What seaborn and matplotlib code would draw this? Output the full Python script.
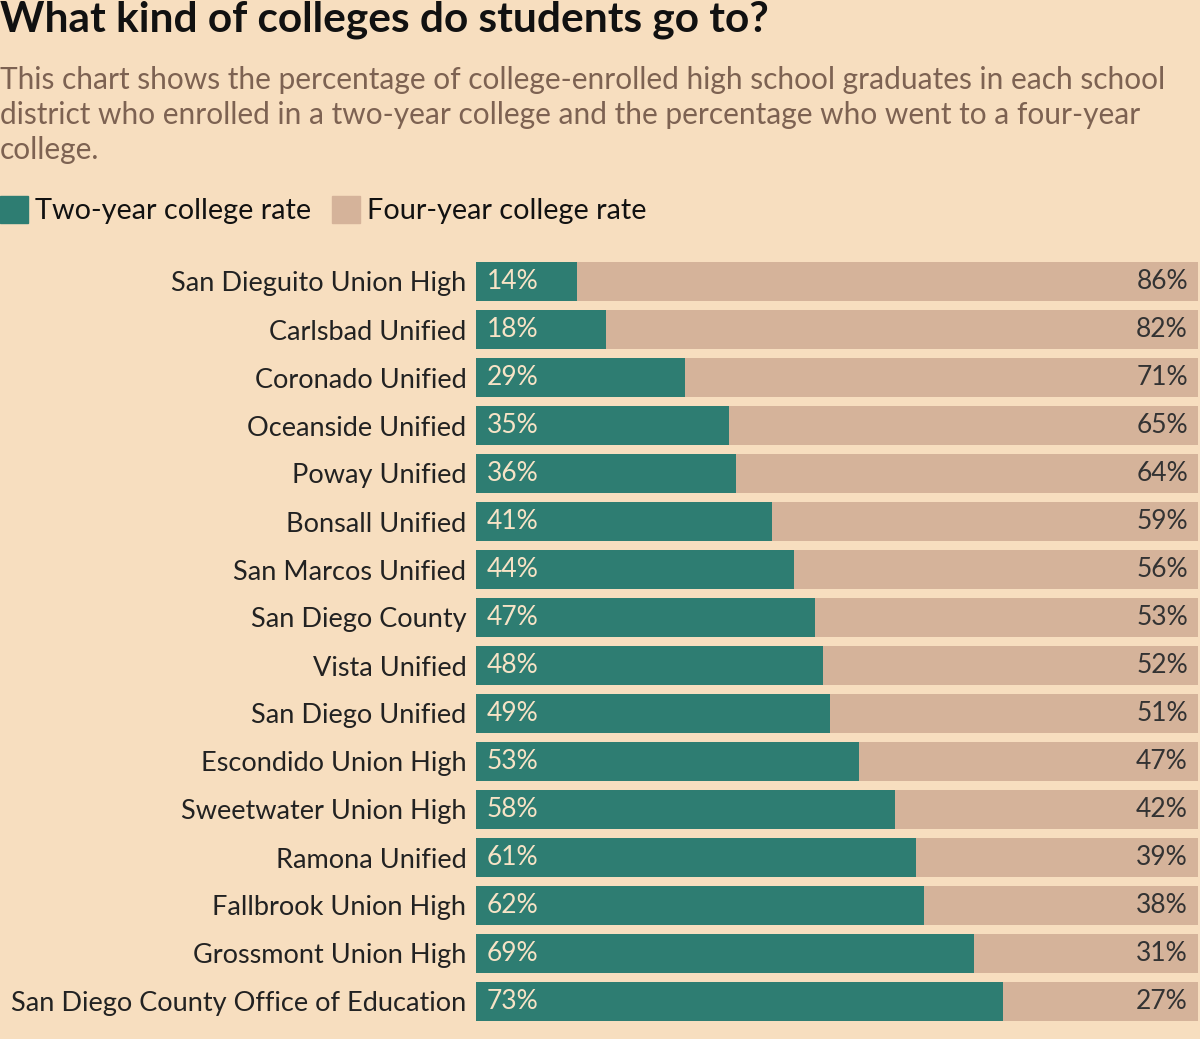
import pandas as pd
import seaborn as sns
import matplotlib.pyplot as plt

# Data
districts = ['San Dieguito Union High', 'Carlsbad Unified', 'Coronado Unified',
             'Oceanside Unified', 'Poway Unified', 'Bonsall Unified',
             'San Marcos Unified', 'San Diego County', 'Vista Unified',
             'San Diego Unified', 'Escondido Union High', 'Sweetwater Union High',
             'Ramona Unified', 'Fallbrook Union High', 'Grossmont Union High',
             'San Diego County Office of Education']
two_year = [14, 18, 29, 35, 36, 41, 44, 47, 48, 49, 53, 58, 61, 62, 69, 73]
four_year = [86, 82, 71, 65, 64, 59, 56, 53, 52, 51, 47, 42, 39, 38, 31, 27]

bg = '#F7DEBF'
teal = '#2E7D72'
tan = '#D5B39A'

df = pd.DataFrame({'District': districts, 'Two': two_year, 'Four': four_year})
df['Total'] = df['Two'] + df['Four']

sns.set_theme(style='white')
plt.rcParams['font.family'] = ['Lato', 'DejaVu Sans']

fig = plt.figure(figsize=(12, 10.39), dpi=100)
fig.patch.set_facecolor(bg)
ax = fig.add_axes([476 / 1200, 1 - 1025.5 / 1039, 722 / 1200, 768 / 1039])
ax.set_facecolor(bg)

# four-year part drawn as the full bar, two-year on top of it
sns.barplot(data=df, x='Total', y='District', color=tan, saturation=1,
            width=0.81, orient='h', linewidth=0, ax=ax)
sns.barplot(data=df, x='Two', y='District', color=teal, saturation=1,
            width=0.81, orient='h', linewidth=0, ax=ax)

ax.set_xlim(0, 100)
ax.set_ylim(15.5, -0.5)
ax.set_xlabel('')
ax.set_ylabel('')
ax.set_xticks([])
ax.tick_params(axis='y', length=0, pad=7, labelsize=19.5, labelcolor='#222222')
for lbl in ax.get_yticklabels():
    lbl.set_va('center_baseline')
for s in ax.spines.values():
    s.set_visible(False)

for i, row in df.iterrows():
    ax.text(1.5, i, f"{row['Two']}%", va='center', ha='left', fontsize=19,
            color='#F7E3C6')
    ax.text(98.6, i, f"{row['Four']}%", va='center', ha='right', fontsize=19,
            color='#333333')

# title and subtitle
fig.text(0.0, 1 - 20 / 1039, 'What kind of colleges do students go to?',
         fontsize=30.5, fontweight='bold', color='#111111', va='center', ha='left')
subtitle = ('This chart shows the percentage of college-enrolled high school graduates in each school\n'
            'district who enrolled in a two-year college and the percentage who went to a four-year\n'
            'college.')
fig.text(0.0, 1 - 66 / 1039, subtitle, fontsize=21.5, color='#7D6252',
         va='top', ha='left', linespacing=1.3)

# legend
leg_y = 1 - 211 / 1039
fig.patches.append(plt.Rectangle((0, 1 - 223 / 1039), 28 / 1200, 27 / 1039,
                                 transform=fig.transFigure, color=teal))
fig.text(35 / 1200, leg_y, 'Two-year college rate', fontsize=20.8, color='#111111',
         va='center', ha='left')
fig.patches.append(plt.Rectangle((332 / 1200, 1 - 223 / 1039), 28 / 1200, 27 / 1039,
                                 transform=fig.transFigure, color=tan))
fig.text(367 / 1200, leg_y, 'Four-year college rate', fontsize=20.8, color='#111111',
         va='center', ha='left')

fig.savefig('out.png', dpi=100, facecolor=bg)
